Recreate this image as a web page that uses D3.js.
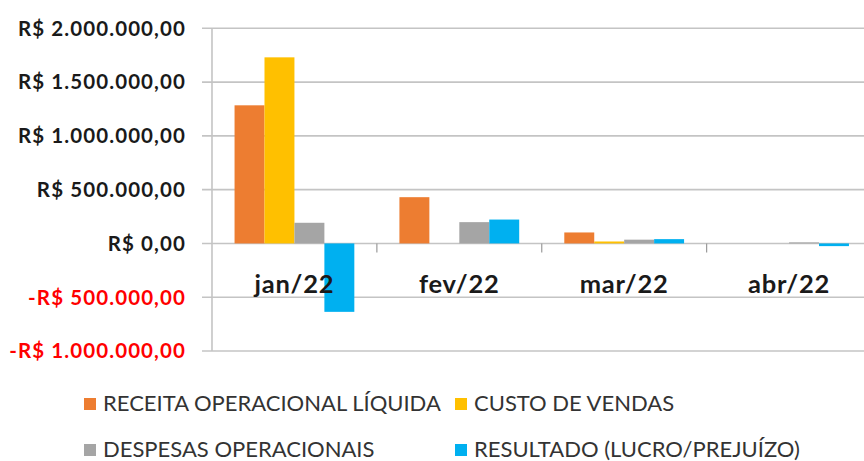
<!DOCTYPE html>
<html>
<head>
<meta charset="utf-8">
<script src="https://cdn.jsdelivr.net/npm/d3@7"></script>
<style>
  html, body { margin: 0; padding: 0; background: #fff; }
  svg { display: block; }
</style>
</head>
<body>
<svg id="chart" width="864" height="461"></svg>
<script>
// ---- data ----
const months = ["jan/22", "fev/22", "mar/22", "abr/22"];
const seriesNames = ["RECEITA OPERACIONAL LÍQUIDA", "CUSTO DE VENDAS", "DESPESAS OPERACIONAIS", "RESULTADO (LUCRO/PREJUÍZO)"];
const receita   = [1284000, 430000, 102000, 0];
const custo     = [1730000, 0, 18000, 0];
const despesas  = [192000, 198000, 35000, 10000];
const resultado = [-636000, 222000, 40000, -25000];
const yTicks = [-1000000, -500000, 0, 500000, 1000000, 1500000, 2000000];
const colors = ["#ED7D31", "#FFC000", "#A5A5A5", "#00B0F0"];

const seriesValues = [receita, custo, despesas, resultado];
const table = months.map((m, i) => ({ month: m, values: seriesValues.map(s => s[i]) }));

const svg = d3.select("#chart");
const plotLeft = 212, plotRight = 871.5, plotTop = 28.3, plotBottom = 351;

const y = d3.scaleLinear().domain([-1000000, 2000000]).range([plotBottom, plotTop]);
const x0 = d3.scaleBand().domain(months).range([plotLeft, plotRight]).paddingInner(0).paddingOuter(0);
const x1 = d3.scaleBand().domain(d3.range(seriesNames.length)).range([0, x0.bandwidth()]).paddingInner(0).paddingOuter(0.753);

const br = d3.formatLocale({ decimal: ",", thousands: ".", grouping: [3], currency: ["R$ ", ""], minus: "-" });
const fmt = br.format("$,.2f");

const gridColor = "#C4C4C4";

// gridlines + left ticks
svg.append("g").selectAll("line").data(yTicks).join("line")
  .attr("x1", plotLeft - 10).attr("x2", 864)
  .attr("y1", d => y(d)).attr("y2", d => y(d))
  .attr("stroke", gridColor).attr("stroke-width", 1.6);

// vertical value axis line
svg.append("line")
  .attr("x1", plotLeft).attr("x2", plotLeft)
  .attr("y1", y(2000000)).attr("y2", y(-1000000))
  .attr("stroke", gridColor).attr("stroke-width", 1.6);

// category ticks on zero line
svg.append("g").selectAll("line").data(months.slice(1)).join("line")
  .attr("x1", d => x0(d)).attr("x2", d => x0(d))
  .attr("y1", y(0)).attr("y2", y(0) + 9)
  .attr("stroke", "#9a9a9a").attr("stroke-width", 1.2);

// y tick labels
svg.append("g").selectAll("text").data(yTicks).join("text")
  .attr("x", 186).attr("y", d => y(d))
  .attr("dy", "0.36em")
  .attr("text-anchor", "end")
  .attr("font-family", "Lato, 'Open Sans', sans-serif")
  .attr("font-weight", "bold")
  .attr("font-size", 20.5)
  .attr("letter-spacing", "1.1px")
  .attr("fill", d => d < 0 ? "#FF0000" : "#1a1a1a")
  .text(d => fmt(d));

// bars
const groups = svg.append("g").selectAll("g").data(table).join("g")
  .attr("transform", d => `translate(${x0(d.month)},0)`);
groups.selectAll("rect").data(d => d.values.map((v, i) => ({ v, i }))).join("rect")
  .attr("x", d => x1(d.i))
  .attr("width", x1.bandwidth())
  .attr("y", d => y(Math.max(0, d.v)))
  .attr("height", d => Math.abs(y(d.v) - y(0)))
  .attr("fill", d => colors[d.i]);

// category labels
svg.append("g").selectAll("text").data(months).join("text")
  .attr("x", d => x0(d) + x0.bandwidth() / 2)
  .attr("y", 293)
  .attr("text-anchor", "middle")
  .attr("font-family", "Lato, 'Open Sans', sans-serif")
  .attr("font-weight", "bold")
  .attr("font-size", 25.5)
  .attr("letter-spacing", "0.8px")
  .attr("fill", "#1a1a1a")
  .text(d => d);

// legend
const legendPos = [
  { x: 84, y: 410.5 },
  { x: 455, y: 410.5 },
  { x: 84, y: 456.5 },
  { x: 455, y: 456.5 }
];
const leg = svg.append("g").selectAll("g").data(seriesNames).join("g")
  .attr("transform", (d, i) => `translate(${legendPos[i].x},${legendPos[i].y})`);
leg.append("rect")
  .attr("x", 0).attr("y", -12.5).attr("width", 12).attr("height", 12)
  .attr("fill", (d, i) => colors[i]);
leg.append("text")
  .attr("x", 19).attr("y", 0)
  .attr("font-family", "Lato, 'Open Sans', sans-serif")
  .attr("font-size", 22)
  .attr("fill", "#333333")
  .text(d => d);
</script>
</body>
</html>
